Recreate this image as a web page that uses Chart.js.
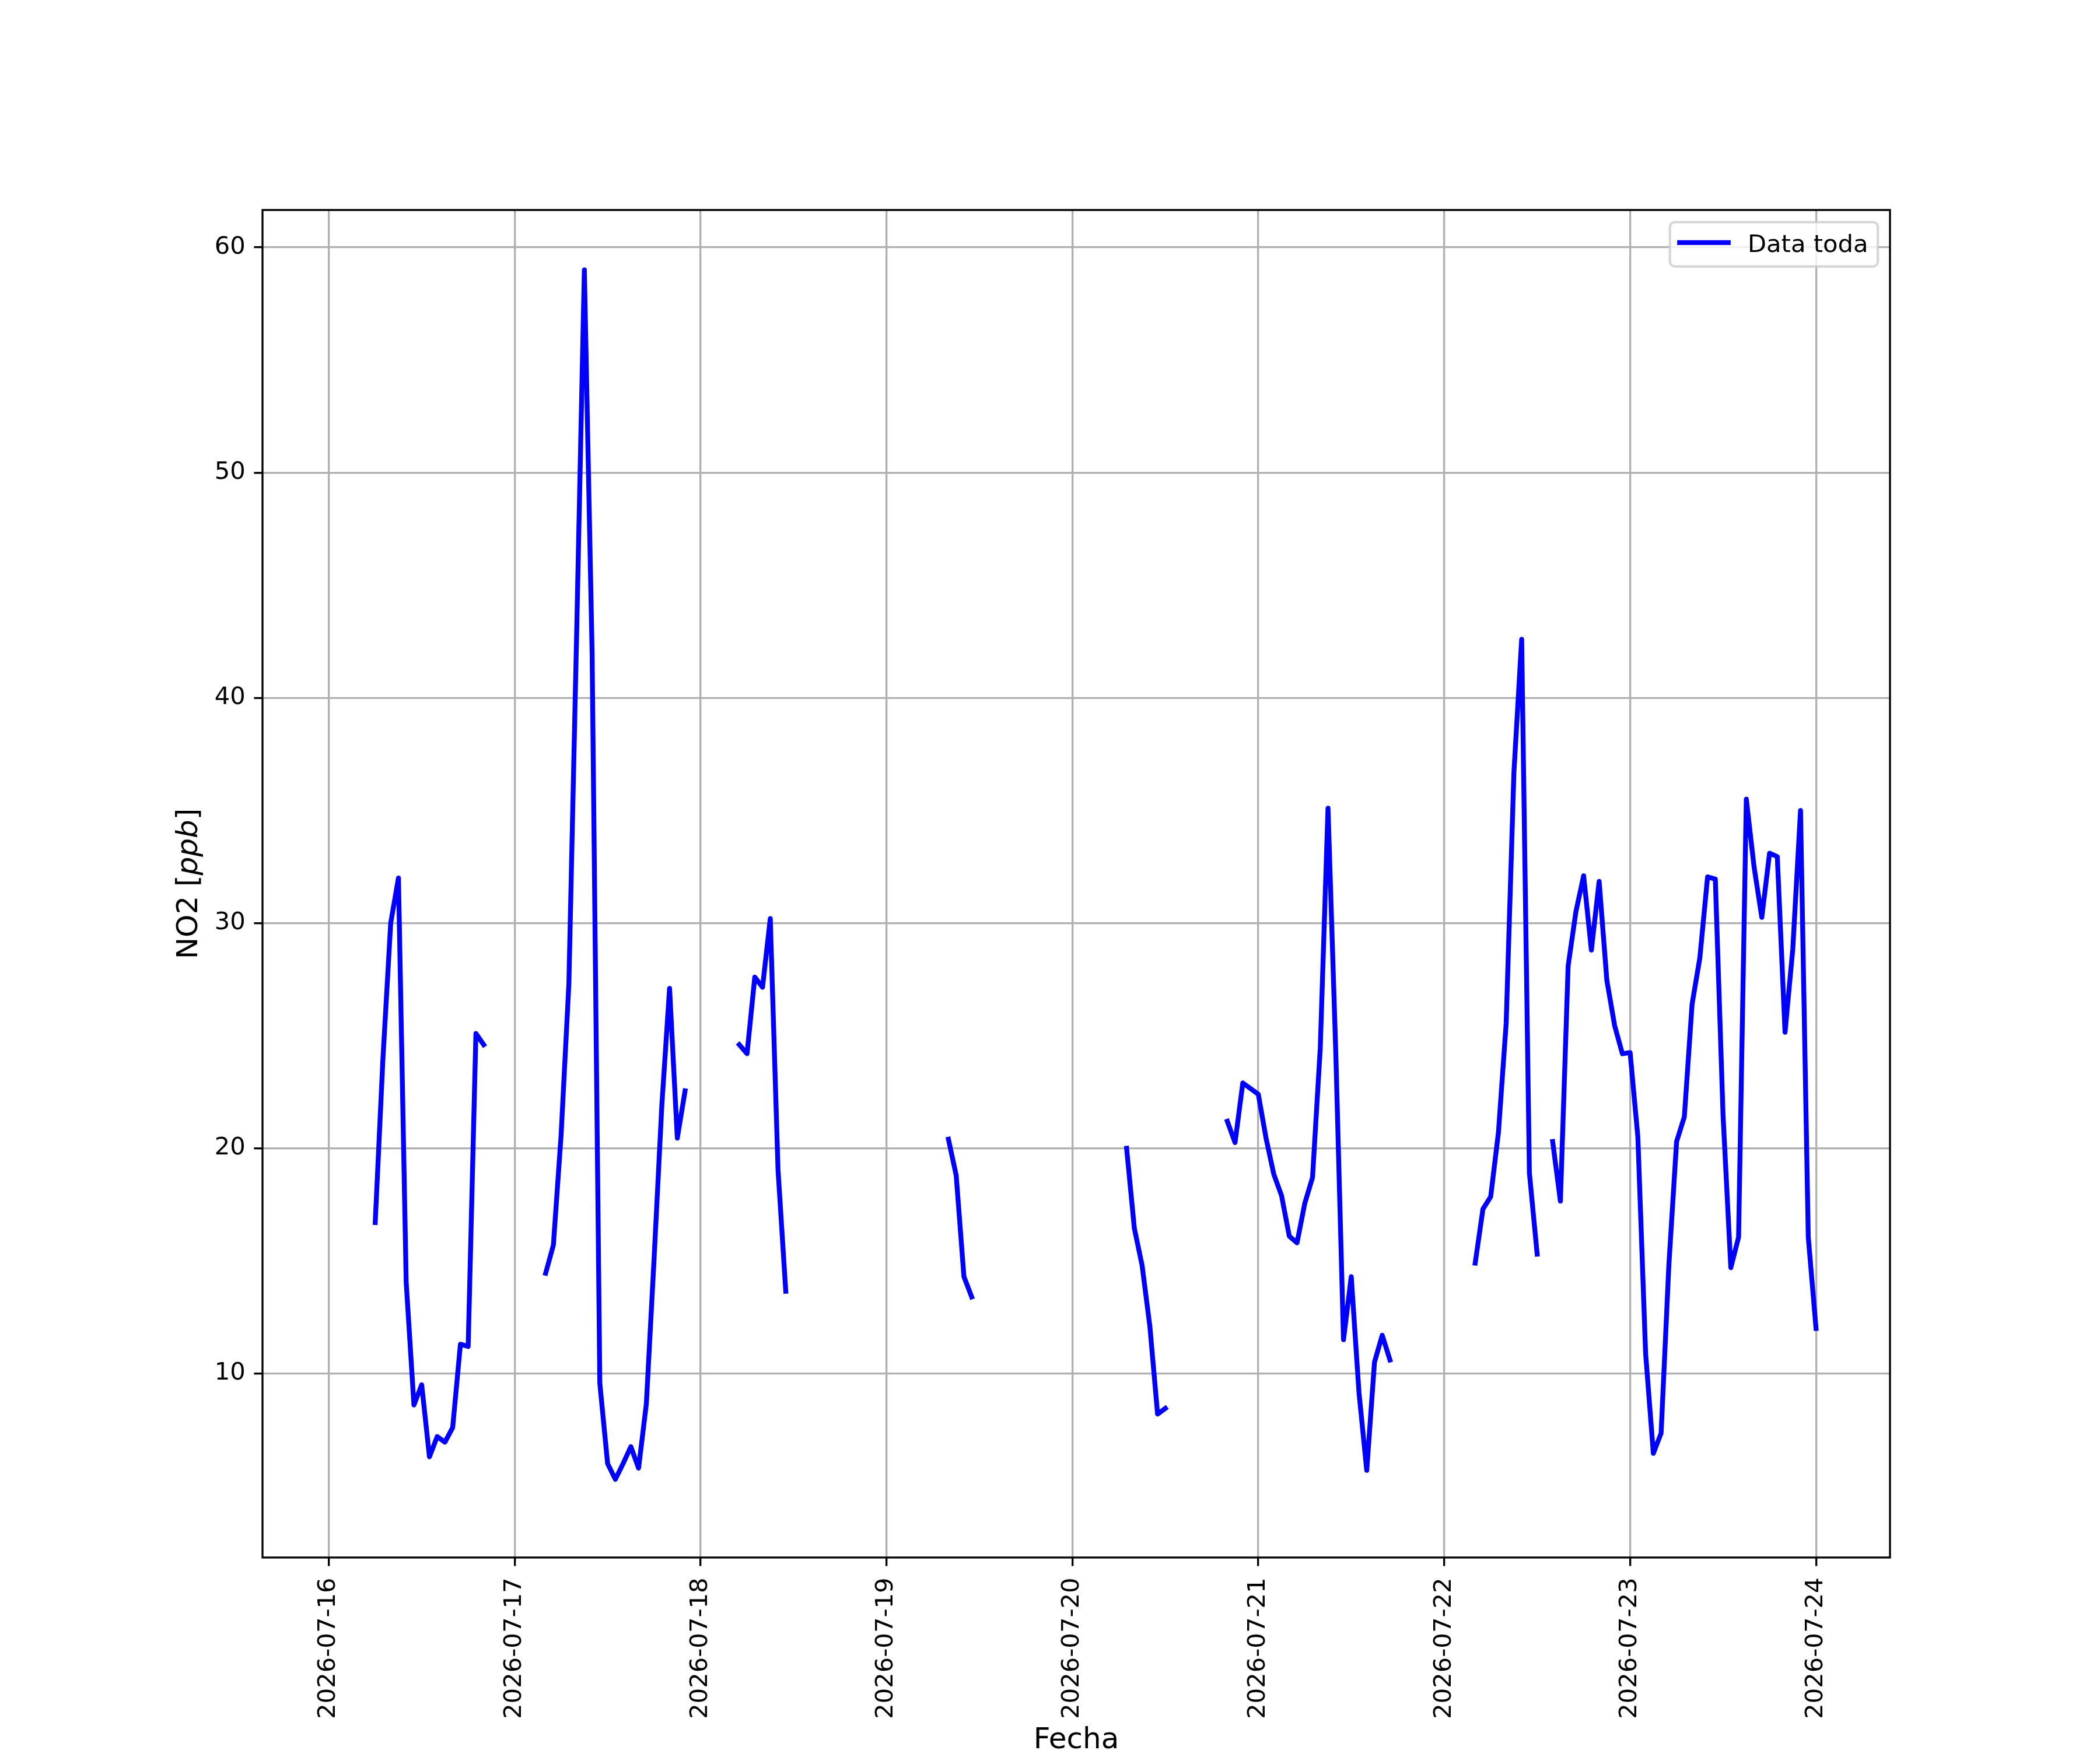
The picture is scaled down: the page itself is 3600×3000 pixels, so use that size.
<!DOCTYPE html>
<html>
<head>
<meta charset="utf-8">
<script src="https://cdn.jsdelivr.net/npm/chart.js@4/dist/chart.umd.min.js"></script>
<style>
  html, body { margin: 0; padding: 0; background: #ffffff; }
  #wrap { width: 3600px; height: 3000px; }
</style>
</head>
<body>
<div id="wrap"><canvas id="c" width="3600" height="3000"></canvas></div>
<script>
// ---- data (hourly, first value at 2026-07-16 01:00) ----
const seriesLabel = 'Data toda';
const startHour = 1; // hours after 2026-07-16 00:00
const no2 = [
  null, null, null, null, null,
  16.7, 24.0, 30.0, 32.0, 14.05, 8.6, 9.5, 6.3, 7.2, 6.95, 7.6, 11.3, 11.2, 25.1, 24.6,
  null, null, null, null, null, null, null,
  14.45, 15.7, 20.6, 27.3, 42.8, 59.0, 42.0, 9.55, 6.0, 5.3, 6.0, 6.75, 5.8, 8.65, 15.1, 21.9, 27.1, 20.45, 22.55,
  null, null, null, null, null, null,
  24.6, 24.2, 27.6, 27.15, 30.2, 19.05, 13.65,
  null, null, null, null, null, null, null, null, null, null,
  null, null, null, null, null, null, null, null, null, null,
  20.4, 18.8, 14.3, 13.4,
  null, null, null, null, null, null, null, null, null, null,
  null, null, null, null, null, null, null, null, null,
  20.0, 16.45, 14.8, 12.1, 8.2, 8.45,
  null, null, null, null, null, null, null,
  21.2, 20.25, 22.9, 22.65, 22.4, 20.45, 18.85, 17.9, 16.1, 15.8, 17.55, 18.7, 24.45, 35.1, 24.3, 11.5, 14.3, 9.15, 5.7, 10.5, 11.7, 10.6,
  null, null, null, null, null, null, null, null, null, null,
  14.9, 17.3, 17.85, 20.7, 25.55, 36.7, 42.6, 18.9, 15.3,
  null,
  20.3, 17.65, 28.1, 30.5, 32.1, 28.8, 31.85, 27.45, 25.45, 24.2, 24.25, 20.5, 10.9, 6.45, 7.35, 14.8, 20.3, 21.4, 26.4, 28.45, 32.05, 31.95, 21.45, 14.7, 16.05, 35.5, 32.5, 30.25, 33.1, 32.95, 25.15, 28.85, 35.0, 16.05, 12.0
];
const xTickHours = [0, 24, 48, 72, 96, 120, 144, 168, 192];
const dateLabels = ['2026-07-16', '2026-07-17', '2026-07-18', '2026-07-19', '2026-07-20',
                    '2026-07-21', '2026-07-22', '2026-07-23', '2026-07-24'];
const yTicks = [10, 20, 30, 40, 50, 60];
const xTitle = 'Fecha';
const yTitleParts = [['NO2 [', 'normal'], ['ppb', 'italic'], [']', 'normal']];

// ---- style ----
const FONT = "'DejaVu Sans', 'Liberation Sans', sans-serif";
const PT = 300 / 72;
const LINE_BLUE = '#0000ff';

const points = no2.map((v, i) => ({ x: startHour + i, y: v }));

const decorPlugin = {
  id: 'decor',
  afterDatasetsDraw(chart) {
    const ctx = chart.ctx;
    const a = chart.chartArea;
    ctx.save();
    // spines
    ctx.strokeStyle = '#000000';
    ctx.lineWidth = 0.8 * PT;
    ctx.lineJoin = 'miter';
    ctx.strokeRect(a.left, a.top, a.right - a.left, a.bottom - a.top);

    // legend (upper right, inside axes)
    const fs = 10 * PT;
    const pad = 0.5 * fs;
    const boxRight = a.right - pad;
    const boxTop = a.top + pad;
    ctx.font = `${fs}px ${FONT}`;
    const textW = ctx.measureText(seriesLabel).width;
    const borderPad = 0.4 * fs, handleLen = 2.0 * fs, handlePad = 0.8 * fs;
    const boxW = borderPad * 2 + handleLen + handlePad + textW;
    const boxH = 76;
    const boxLeft = boxRight - boxW;
    const r = 0.2 * fs;
    ctx.beginPath();
    ctx.moveTo(boxLeft + r, boxTop);
    ctx.lineTo(boxRight - r, boxTop);
    ctx.arcTo(boxRight, boxTop, boxRight, boxTop + r, r);
    ctx.lineTo(boxRight, boxTop + boxH - r);
    ctx.arcTo(boxRight, boxTop + boxH, boxRight - r, boxTop + boxH, r);
    ctx.lineTo(boxLeft + r, boxTop + boxH);
    ctx.arcTo(boxLeft, boxTop + boxH, boxLeft, boxTop + boxH - r, r);
    ctx.lineTo(boxLeft, boxTop + r);
    ctx.arcTo(boxLeft, boxTop, boxLeft + r, boxTop, r);
    ctx.closePath();
    ctx.fillStyle = 'rgba(255,255,255,0.8)';
    ctx.fill();
    ctx.strokeStyle = 'rgba(204,204,204,0.8)';
    ctx.lineWidth = 1.0 * PT;
    ctx.stroke();
    const ds = chart.data.datasets[0];
    const hx0 = boxLeft + borderPad;
    const hy = boxTop + 35;
    ctx.beginPath();
    ctx.moveTo(hx0, hy);
    ctx.lineTo(hx0 + handleLen, hy);
    ctx.strokeStyle = ds.borderColor;
    ctx.lineWidth = ds.borderWidth;
    ctx.lineCap = 'square';
    ctx.stroke();
    ctx.fillStyle = '#000000';
    ctx.textAlign = 'left';
    ctx.textBaseline = 'alphabetic';
    ctx.fillText(ds.label, hx0 + handleLen + handlePad, boxTop + 50.7);

    // axis titles
    const ts = 12 * PT;
    ctx.font = `${ts}px ${FONT}`;
    ctx.textAlign = 'center';
    ctx.fillText(xTitle, (a.left + a.right) / 2, 2997);

    // y title, rotated, mixed upright / italic
    let total = 0;
    const widths = yTitleParts.map(([t, st]) => {
      ctx.font = `${st === 'italic' ? 'italic ' : ''}${ts}px ${FONT}`;
      const w = ctx.measureText(t).width;
      total += w;
      return w;
    });
    ctx.translate(338, (a.top + a.bottom) / 2);
    ctx.rotate(-Math.PI / 2);
    ctx.textAlign = 'left';
    let cx = -total / 2;
    yTitleParts.forEach(([t, st], i) => {
      ctx.font = `${st === 'italic' ? 'italic ' : ''}${ts}px ${FONT}`;
      ctx.fillText(t, cx, 0);
      cx += widths[i];
    });
    ctx.restore();
  }
};

new Chart(document.getElementById('c'), {
  type: 'line',
  data: {
    datasets: [{
      label: seriesLabel,
      data: points,
      borderColor: LINE_BLUE,
      backgroundColor: LINE_BLUE,
      borderWidth: 2 * PT,
      pointRadius: 0,
      pointHoverRadius: 0,
      tension: 0,
      spanGaps: false,
      fill: false,
      borderCapStyle: 'square',
      borderJoinStyle: 'round'
    }]
  },
  options: {
    responsive: false,
    devicePixelRatio: 1,
    animation: false,
    events: [],
    layout: { padding: { left: 0, top: 360, right: 360, bottom: 0 } },
    plugins: {
      legend: { display: false },
      tooltip: { enabled: false },
      title: { display: false }
    },
    scales: {
      x: {
        type: 'linear',
        min: -8.55,
        max: 201.55,
        afterBuildTicks: (s) => { s.ticks = xTickHours.map(v => ({ value: v })); },
        afterFit: (s) => { s.height = 330; },
        grid: {
          color: '#b0b0b0',
          lineWidth: 0.8 * PT,
          tickColor: '#000000',
          tickWidth: 0.8 * PT,
          tickLength: 3.5 * PT,
          drawTicks: true
        },
        border: { display: false },
        ticks: {
          autoSkip: false,
          minRotation: 90,
          maxRotation: 90,
          padding: 20,
          color: '#000000',
          font: { family: FONT, size: 10 * PT },
          callback: (v, i) => dateLabels[i]
        }
      },
      y: {
        type: 'linear',
        min: 1.83,
        max: 61.66,
        afterBuildTicks: (s) => { s.ticks = yTicks.map(v => ({ value: v })); },
        afterFit: (s) => { s.width = 450; },
        grid: {
          color: '#b0b0b0',
          lineWidth: 0.8 * PT,
          tickColor: '#000000',
          tickWidth: 0.8 * PT,
          tickLength: 3.5 * PT,
          drawTicks: true
        },
        border: { display: false },
        ticks: {
          padding: 3.5 * PT,
          color: '#000000',
          font: { family: FONT, size: 10 * PT },
          callback: (v) => String(v)
        }
      }
    }
  },
  plugins: [decorPlugin]
});
</script>
</body>
</html>
